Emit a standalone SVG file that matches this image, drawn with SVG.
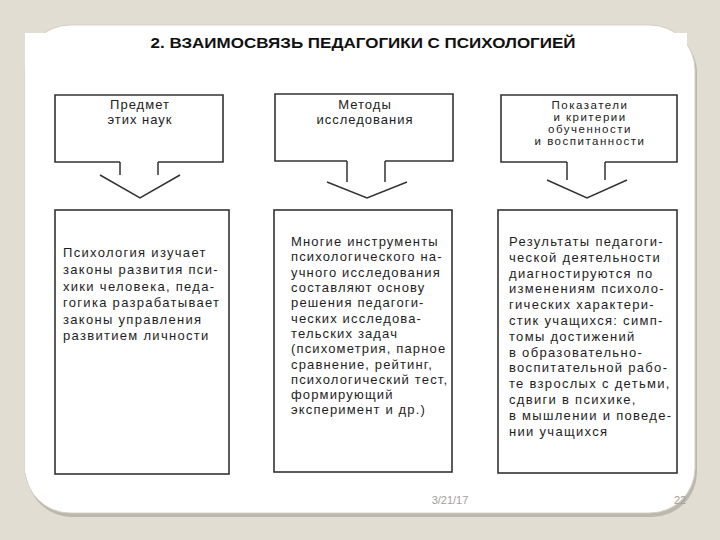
<svg xmlns="http://www.w3.org/2000/svg" width="720" height="540" viewBox="0 0 720 540">
<style>
.box{fill:#fff;stroke:#333;stroke-width:1.6}
.arr{fill:none;stroke:#333;stroke-width:1.5}
.hd{font-family:"Liberation Sans",Arial,sans-serif;font-size:13px;letter-spacing:1px;fill:#222;text-anchor:middle}
.hs{font-family:"Liberation Sans",Arial,sans-serif;font-size:11.5px;letter-spacing:1.5px;fill:#222;text-anchor:middle}
.bd{font-family:"Liberation Sans",Arial,sans-serif;font-size:13px;letter-spacing:1.3px;fill:#1e1e1e}
.b2{letter-spacing:1.15px}
.ft{font-family:"Liberation Sans",Arial,sans-serif;font-size:11px;fill:#a3a09a}
</style>
<rect width="720" height="540" fill="#e2ddd2"/>
<rect x="27" y="28" width="670" height="489" rx="45" fill="#bdb8ae"/>
<rect x="25" y="25" width="670" height="488" rx="45" fill="#fff" stroke="#d5d0c6" stroke-width="1"/>
<rect x="25" y="33" width="662" height="440" fill="#fff"/>
<text x="363" y="48" font-family="'Liberation Sans',Arial,sans-serif" font-size="15" font-weight="900" textLength="425" lengthAdjust="spacingAndGlyphs" text-anchor="middle" fill="#111">2. ВЗАИМОСВЯЗЬ ПЕДАГОГИКИ С ПСИХОЛОГИЕЙ</text>
<g id="head1">
<path class="box" d="M120,162 H55 V95 H223 V162 H158"/>
<text class="hd" x="140" y="109">Предмет</text>
<text class="hd" x="140" y="124">этих наук</text>
</g>
<g id="head2">
<path class="box" d="M347,161 H275 V94 H453 V161 H385"/>
<text class="hd" x="365" y="109">Методы</text>
<text class="hd" x="365" y="124">исследования</text>
</g>
<g id="head3">
<path class="box" d="M567,162 H501 V95 H677 V162 H605"/>
<text class="hs" x="590" y="109">Показатели</text>
<text class="hs" x="590" y="121">и критерии</text>
<text class="hs" x="590" y="133">обученности</text>
<text class="hs" x="590" y="145">и воспитанности</text>
</g>
<g id="connectors">
<path class="arr" d="M120,162 V175 M158,162 V175 M100,175 L140,198 L180,175"/>
<path class="arr" d="M347,161 V182 M385,161 V182 M327,182 L367,198 L407,182"/>
<path class="arr" d="M567,162 V180 M605,162 V180 M547,180 L587,198 L627,180"/>
</g>
<g id="body1">
<rect class="box" x="55" y="210" width="174" height="264"/>
<text class="bd" x="63" y="257">Психология изучает</text>
<text class="bd" x="63" y="274">законы развития пси-</text>
<text class="bd" x="63" y="291">хики человека, педа-</text>
<text class="bd" x="63" y="307">гогика разрабатывает</text>
<text class="bd" x="63" y="324">законы управления</text>
<text class="bd" x="63" y="340">развитием личности</text>
</g>
<g id="body2">
<rect class="box" x="274" y="210" width="178" height="262"/>
<text class="bd b2" x="291" y="246">Многие инструменты</text>
<text class="bd b2" x="291" y="261">психологического на-</text>
<text class="bd b2" x="291" y="277">учного исследования</text>
<text class="bd b2" x="291" y="292">составляют основу</text>
<text class="bd b2" x="291" y="307">решения педагоги-</text>
<text class="bd b2" x="291" y="323">ческих исследова-</text>
<text class="bd b2" x="291" y="338">тельских задач</text>
<text class="bd b2" x="291" y="353">(психометрия, парное</text>
<text class="bd b2" x="291" y="369">сравнение, рейтинг,</text>
<text class="bd b2" x="291" y="384">психологический тест,</text>
<text class="bd b2" x="291" y="399">формирующий</text>
<text class="bd b2" x="291" y="414">эксперимент и др.)</text>
</g>
<g id="body3">
<rect class="box" x="498" y="210" width="179" height="263"/>
<text class="bd" x="509" y="246">Результаты педагоги-</text>
<text class="bd" x="509" y="262">ческой деятельности</text>
<text class="bd" x="509" y="278">диагностируются по</text>
<text class="bd" x="509" y="293">изменениям психоло-</text>
<text class="bd" x="509" y="309">гических характери-</text>
<text class="bd" x="509" y="325">стик учащихся: симп-</text>
<text class="bd" x="509" y="341">томы достижений</text>
<text class="bd" x="509" y="357">в образовательно-</text>
<text class="bd" x="509" y="372">воспитательной рабо-</text>
<text class="bd" x="509" y="388">те взрослых с детьми,</text>
<text class="bd" x="509" y="404">сдвиги в психике,</text>
<text class="bd" x="509" y="420">в мышлении и поведе-</text>
<text class="bd" x="509" y="436">нии учащихся</text>
</g>
<text class="ft" x="450" y="504" text-anchor="middle">3/21/17</text>
<text class="ft" x="680" y="504" text-anchor="middle">22</text>
</svg>
